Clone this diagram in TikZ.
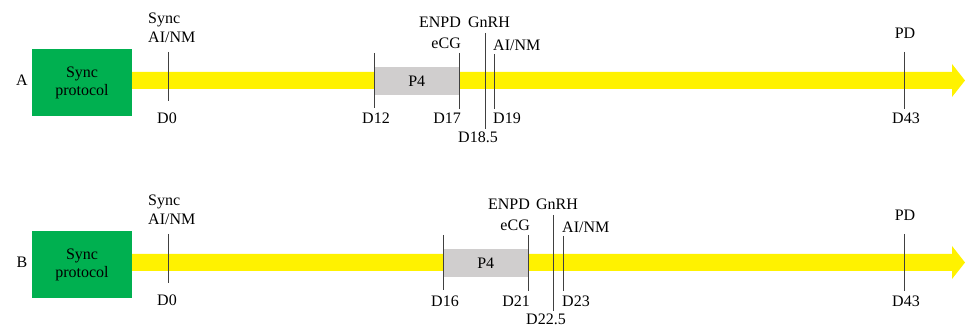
\documentclass[tikz,border=0pt]{standalone}
\usepackage{fontspec}
\setmainfont{Liberation Serif}
\definecolor{boxgreen}{HTML}{00B050}
\definecolor{bargray}{HTML}{D0CECE}
\definecolor{ticks}{HTML}{404040}
\tikzset{
  lbl/.style={font=\fontsize{16}{19}\selectfont, inner sep=0pt, anchor=base},
  lblw/.style={lbl, anchor=base west},
  lble/.style={lbl, anchor=base east},
  tick/.style={draw=ticks, line width=1pt},
  syncbox/.style={fill=boxgreen, draw=none, minimum width=100pt, minimum height=67pt, align=center, inner sep=0pt, font=\fontsize{16}{19}\selectfont},
  pbox/.style={fill=bargray, draw=none, minimum width=85pt, minimum height=28pt, inner sep=0pt, anchor=north west, font=\fontsize{16}{19}\selectfont},
  timebar/.style={fill=yellow, draw=none}
}
% #1 prefix, #2 y shift, #3 start x, #4 start label, #5 end label, #6 half label, #7 last label, #8 half x, #9 last x
\newcommand{\drawpanel}[9]{%
\begin{scope}[shift={(0,#2)}]
  \fill[timebar] (132,72) -- (952,72) -- (952,64) -- (965,80.5) -- (952,97) -- (952,89) -- (132,89) -- cycle;
  \node[syncbox] (#1box) at (82,82.5) {Sync\\[-1pt]protocol};
  \node[lbl] (#1name) at (22,86) {#1};
  \pgfmathsetmacro{\pe}{#3+85}
  \node[pbox] (#1p4) at (#3,67) {P4};
  % ticks
  \coordinate (#1t0a) at (168,52); \coordinate (#1t0b) at (168,101);
  \draw[tick] (#1t0a) -- (#1t0b);
  \coordinate (#1tsa) at (#3,53); \coordinate (#1tsb) at (#3,108);
  \draw[tick] (#1tsa) -- (#1tsb);
  \coordinate (#1tea) at (\pe,53); \coordinate (#1teb) at (\pe,109);
  \draw[tick] (#1tea) -- (#1teb);
  \coordinate (#1tha) at (#8,33); \coordinate (#1thb) at (#8,129);
  \draw[tick] (#1tha) -- (#1thb);
  \coordinate (#1tla) at (#9,54); \coordinate (#1tlb) at (#9,109);
  \draw[tick] (#1tla) -- (#1tlb);
  \coordinate (#1tpa) at (904,52); \coordinate (#1tpb) at (904,109);
  \draw[tick] (#1tpa) -- (#1tpb);
  % labels
  \node[lblw] (#1sync) at (148,24) {Sync};
  \node[lblw] (#1ainm) at (148,42.5) {AI/NM};
  \node[lbl] (#1d0) at (167,123.5) {D0};
  \node[lbl] (#1ds) at (#3+2,124) {#4};
  \node[lble] (#1enpd) at (\pe+2,27.5) {ENPD};
  \node[lble] (#1ecg) at (\pe+2,48.5) {eCG};
  \node[lble] (#1de) at (\pe+2,124) {#5};
  \node[lbl] (#1gnrh) at (#8+4,27.5) {GnRH};
  \node[lbl] (#1dh) at (#8-7,142.5) {#6};
  \node[lblw] (#1ainm2) at (#9-1,51) {AI/NM};
  \node[lblw] (#1dl) at (#9-1,124) {#7};
  \node[lbl] (#1pd) at (905,38.5) {PD};
  \node[lbl] (#1d43) at (906,124) {D43};
\end{scope}}
\begin{document}
\begin{tikzpicture}[x=1pt,y=-1pt]
\useasboundingbox (0,0) rectangle (965,328);
\drawpanel{A}{0}{374}{D12}{D17}{D18.5}{D19}{485}{494}
\drawpanel{B}{182}{443}{D16}{D21}{D22.5}{D23}{553}{563}
\end{tikzpicture}
\end{document}
